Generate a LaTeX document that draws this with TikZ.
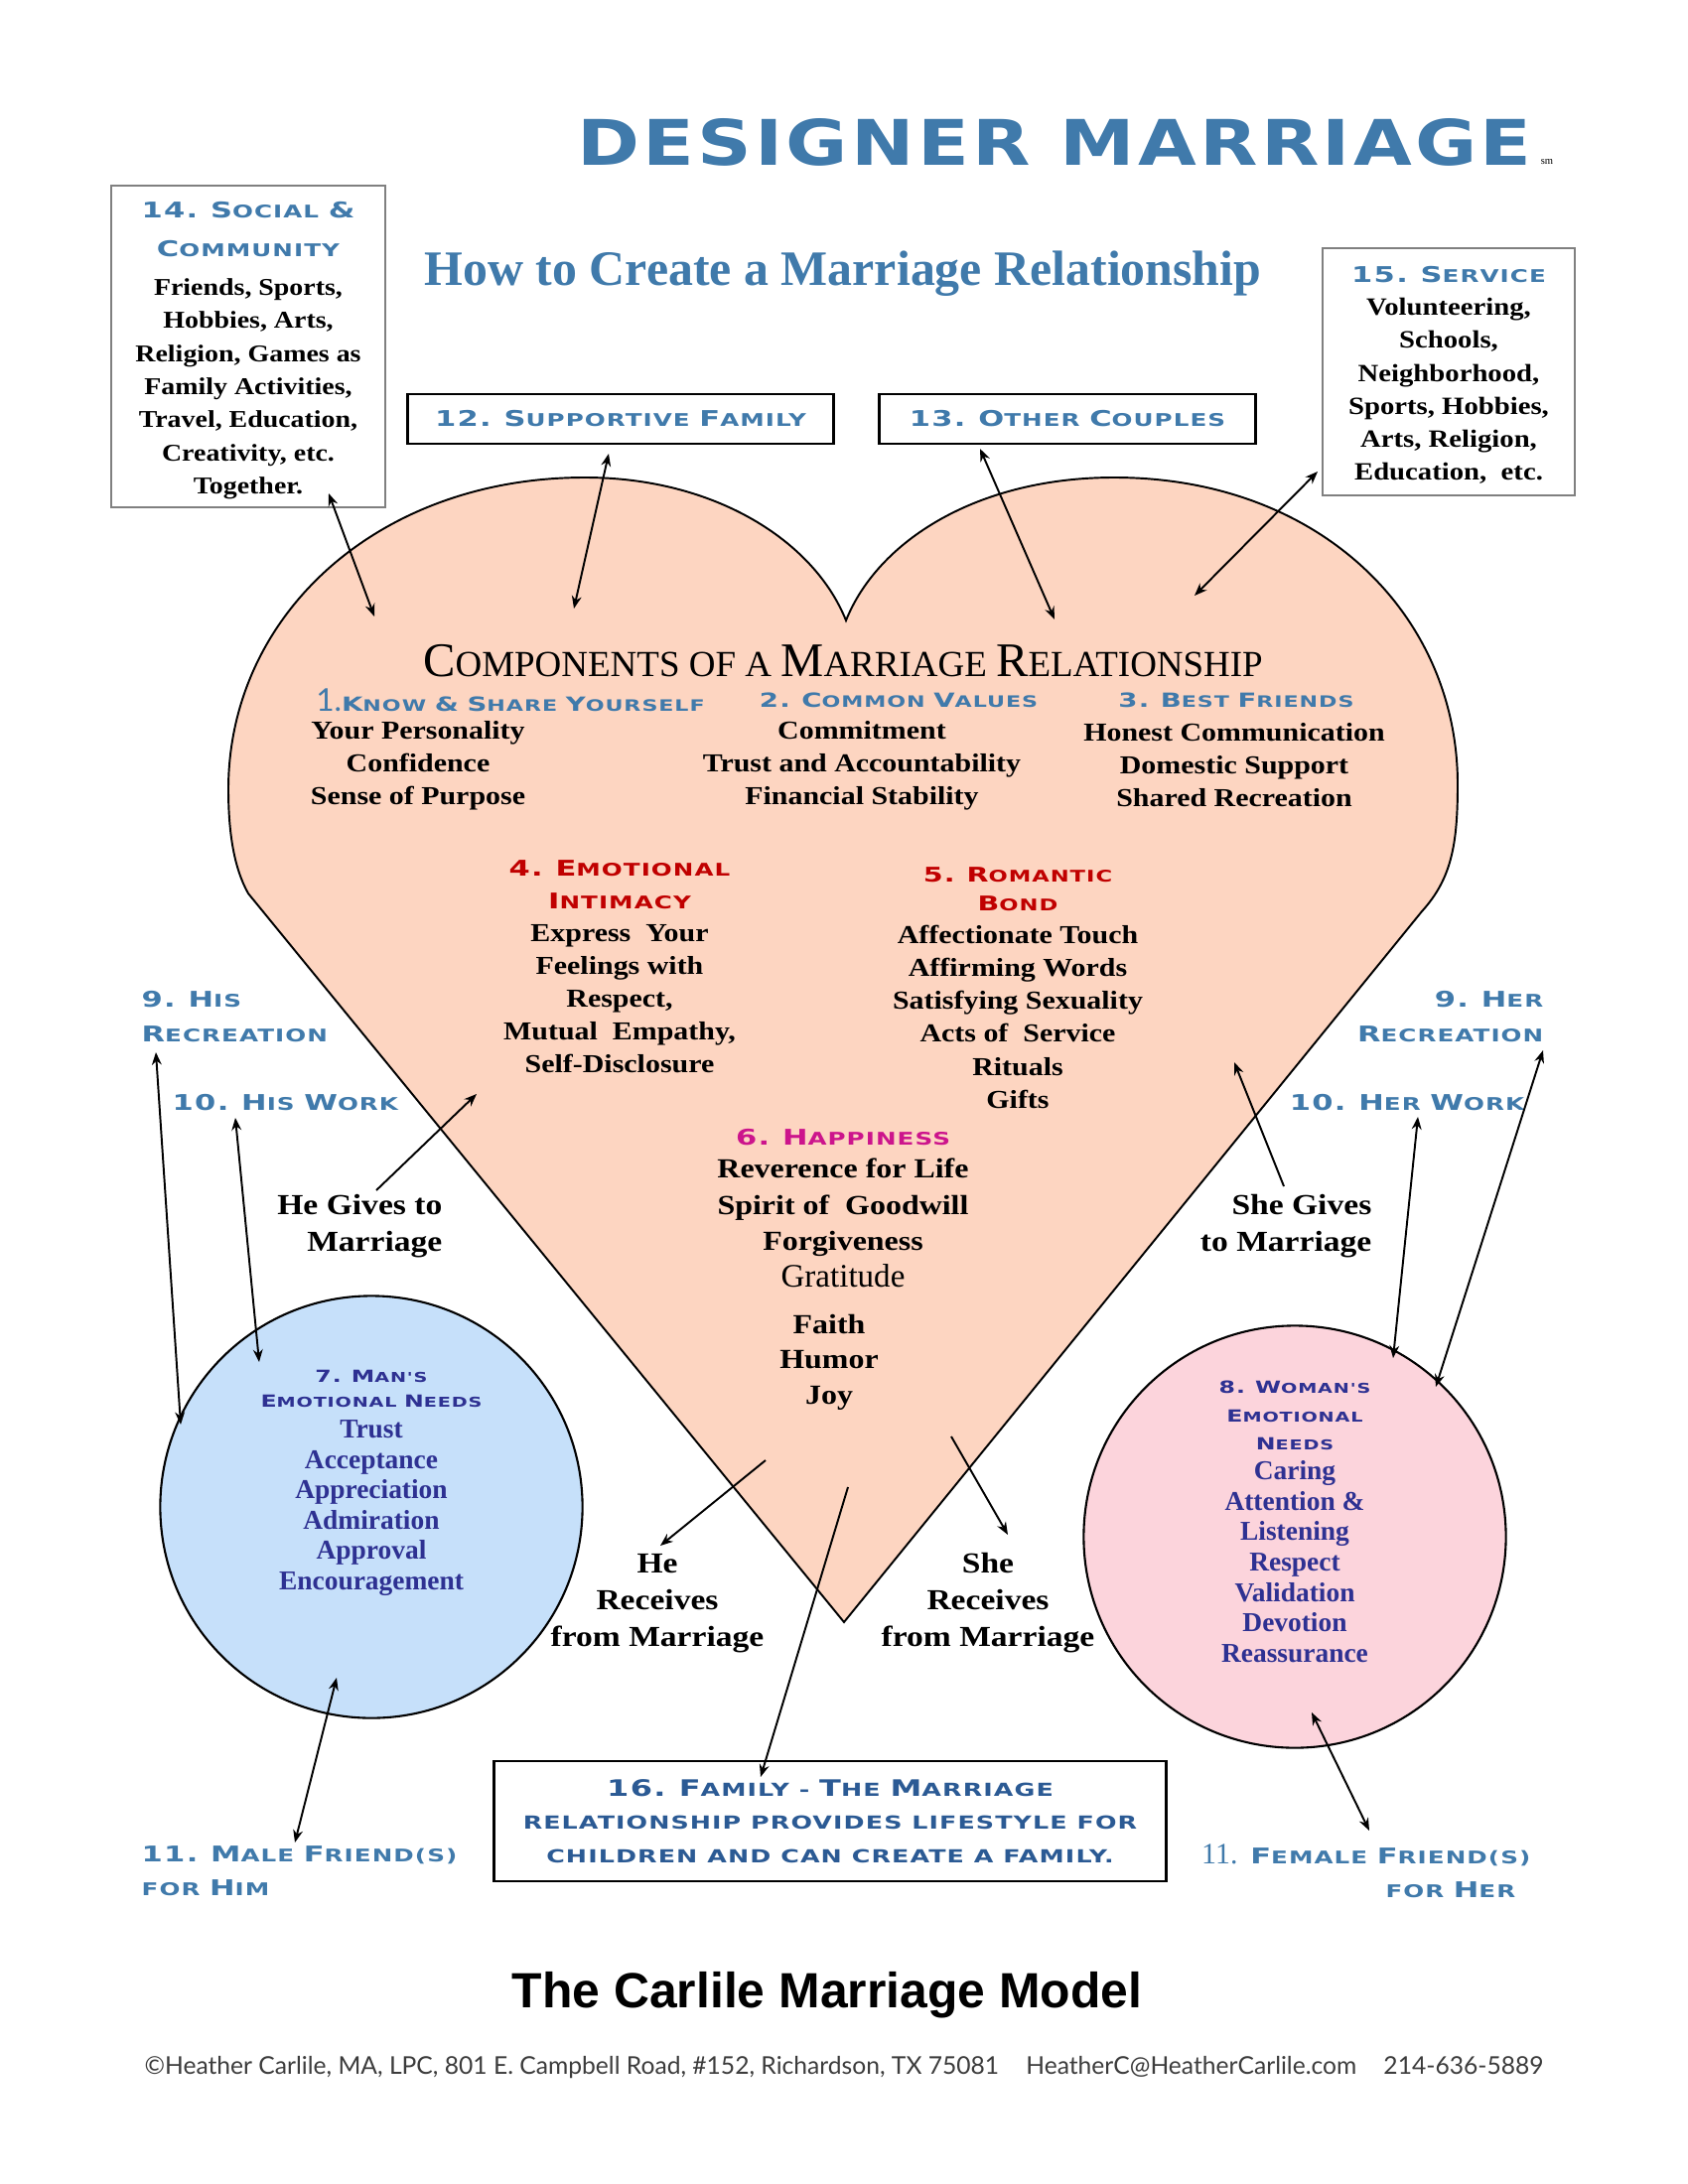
\documentclass[tikz,border=0pt]{standalone}
\usepackage{fontspec}
\usepackage{graphicx}
\usetikzlibrary{arrows.meta}
\setmainfont{Liberation Serif}
\newfontfamily\gar[FakeStretch=1.15]{Liberation Serif}
\newfontfamily\tim{Liberation Serif}
\newfontfamily\cop[FakeStretch=1.4,LetterSpace=6]{DejaVu Sans}
\newfontfamily\arl{Liberation Sans}
\newfontfamily\gill{Lato}
\definecolor{cblue}{RGB}{64,122,171}
\definecolor{cdblue}{RGB}{43,90,148}
\definecolor{cred}{RGB}{192,0,0}
\definecolor{cmag}{RGB}{204,20,140}
\definecolor{cnavy}{RGB}{46,49,146}
\definecolor{heartfill}{RGB}{253,213,193}
\definecolor{bluefill}{RGB}{198,224,250}
\definecolor{pinkfill}{RGB}{252,212,220}
\definecolor{boxgray}{RGB}{128,128,128}
\definecolor{foot}{RGB}{60,60,60}
\newcommand\Bg[1]{{\fontsize{\cpbig}{\cpbig}\selectfont #1}}
\newcommand\cpt[4]{{\color{#1}\cop\bfseries\def\cpbig{#3}\fontsize{#2}{#2}\selectfont #4}}
\newcommand\hd[2]{\cpt{#1}{5.0pt}{6.2pt}{#2}}
\tikzset{
  txt/.style={inner sep=0pt, align=center},
  bb/.style={txt, font=\gar\bfseries\fontsize{6.9pt}{9.5pt}\selectfont},
  rg/.style={txt, font=\gar\bfseries\fontsize{7.4pt}{9.4pt}\selectfont},
  nv/.style={txt, text=cnavy, font=\tim\bfseries\fontsize{7.8pt}{8.7pt}\selectfont},
  hds/.style={txt, font=\fontsize{5pt}{9.7pt}\selectfont},
  graybox/.style={draw=boxgray, line width=0.45pt, inner sep=0pt},
  blackbox/.style={draw=black, line width=0.8pt, inner sep=0pt},
  arr/.style={line width=0.55pt, -{Stealth[length=3.6pt,width=2.8pt]}},
  darr/.style={line width=0.55pt, {Stealth[length=3.6pt,width=2.8pt]}-{Stealth[length=3.6pt,width=2.8pt]}},
}
\begin{document}
\begin{tikzpicture}[x=0.01cm,y=-0.01cm]
\fill[white] (0,0) rectangle (1700,2200);
\path[use as bounding box] (0,0) rectangle (1700,2200);

% heart
\draw[fill=heartfill, line width=0.55pt] (850,1634) -- (250,900)
  .. controls (236,875) and (230,840) .. (230,795)
  .. controls (230,620) and (380,481) .. (589,481)
  .. controls (720,481) and (820,545) .. (852,625)
  .. controls (884,545) and (984,481) .. (1122,481)
  .. controls (1330,481) and (1468,620) .. (1468,790)
  .. controls (1468,850) and (1462,885) .. (1432,918) -- cycle;

% circles
\node[circle, draw, line width=0.6pt, fill=bluefill, minimum size=4.25cm, inner sep=0pt] (c7) at (374,1518) {};
\node[circle, draw, line width=0.6pt, fill=pinkfill, minimum size=4.25cm, inner sep=0pt] (c8) at (1304,1548) {};

% titles
\node[txt, text=cblue] (title) at (1062,143) {\resizebox{9.61cm}{0.47cm}{\cop\bfseries DESIGNER MARRIAGE}};
\node[txt, font=\tim\fontsize{3pt}{3pt}\selectfont] (sm) at (1558,163) {sm};
\node[txt, text=cblue] (sub) at (849,276) {\resizebox{8.42cm}{!}{\tim\bfseries How to Create a Marriage Relationship}};

% box 14
\node[graybox, minimum width=2.76cm, minimum height=3.24cm] (b14) at (250,349) {};
\node[bb] (t14) at (250,353) {\hd{cblue}{\Bg{14.} \Bg{S}OCIAL \Bg{\&}}\\[1.6pt]
  \hd{cblue}{\Bg{C}OMMUNITY}\\[1.6pt]
  Friends, Sports,\\ Hobbies, Arts,\\ Religion, Games as\\ Family Activities,\\ Travel, Education,\\ Creativity, etc.\\ Together.};

% box 15
\node[graybox, minimum width=2.54cm, minimum height=2.49cm] (b15) at (1459,374.5) {};
\node[bb, font=\gar\bfseries\fontsize{7.1pt}{9.45pt}\selectfont] (t15) at (1459,378) {\hd{cblue}{\Bg{15.} \Bg{S}ERVICE}\\
  Volunteering,\\ Schools,\\ Neighborhood,\\ Sports, Hobbies,\\ Arts, Religion,\\ Education,\ \ etc.};

% boxes 12, 13
\node[blackbox, minimum width=4.28cm, minimum height=0.5cm] (b12) at (625,422) {\hd{cblue}{\Bg{12.} \Bg{S}UPPORTIVE \Bg{F}AMILY}};
\node[blackbox, minimum width=3.78cm, minimum height=0.5cm] (b13) at (1075,422) {\hd{cblue}{\Bg{13.} \Bg{O}THER \Bg{C}OUPLES}};

% components
\node[txt] (comp) at (849,666) {\resizebox{8.45cm}{!}{\tim\fontsize{8pt}{8pt}\selectfont {\fontsize{10.5pt}{10pt}\selectfont C}OMPONENTS OF A {\fontsize{10.5pt}{10pt}\selectfont M}ARRIAGE {\fontsize{10.5pt}{10pt}\selectfont R}ELATIONSHIP}};
\node[txt] (h1) at (514,705) {{\color{cblue}\gill\fontsize{9pt}{9pt}\selectfont 1.}\cpt{cblue}{4.5pt}{5.6pt}{\Bg{K}NOW \Bg{\&} \Bg{S}HARE \Bg{Y}OURSELF}};
\node[txt] (h2) at (905,705) {\cpt{cblue}{4.5pt}{5.6pt}{\Bg{2.} \Bg{C}OMMON \Bg{V}ALUES}};
\node[txt] (h3) at (1245,705) {\cpt{cblue}{4.5pt}{5.6pt}{\Bg{3.} \Bg{B}EST \Bg{F}RIENDS}};
\node[rg] (i1) at (421,771) {Your Personality\\ Confidence\\ Sense of\ Purpose};
\node[rg] (i2) at (868,771) {Commitment\\ Trust and Accountability\\ Financial Stability};
\node[rg] (i3) at (1243,771) {Honest Communication\\ Domestic Support\\ Shared Recreation};

% 4 and 5
\node[rg] (t4) at (624,973.5) {\hd{cred}{\Bg{4.} \Bg{E}MOTIONAL}\\ \hd{cred}{\Bg{I}NTIMACY}\\
  Express\ \ Your\\ Feelings with\\ Respect,\\ Mutual\ \ Empathy,\\ Self-Disclosure};
\node[rg] (t5) at (1025,995) {\cpt{cred}{4.6pt}{5.8pt}{\Bg{5.} \Bg{R}OMANTIC}\\[-1.1pt] \cpt{cred}{4.6pt}{5.8pt}{\Bg{B}OND}\\
  Affectionate Touch\\ Affirming Words\\ Satisfying Sexuality\\ Acts of\ \ Service\\ Rituals\\ Gifts};

% 6
\node[txt, font=\gar\bfseries\fontsize{7.9pt}{10.4pt}\selectfont] (t6) at (849,1217) {\hd{cmag}{\Bg{6.} \Bg{H}APPINESS}\\[-1pt]
  Reverence for Life\\ Spirit of\ \ Goodwill\\ Forgiveness\\ {\tim\mdseries\fontsize{9.4pt}{10pt}\selectfont Gratitude}};
\node[txt, font=\gar\bfseries\fontsize{7.9pt}{10.1pt}\selectfont] (t6b) at (835,1372) {Faith\\ Humor\\ Joy};

% side labels
\node[hds, anchor=west, align=left] (r9h) at (142,1024) {\hd{cblue}{\Bg{9.} \Bg{H}IS}\\ \hd{cblue}{\Bg{R}ECREATION}};
\node[hds, anchor=west, align=left] (w10h) at (173,1111) {\hd{cblue}{\Bg{10.} \Bg{H}IS \Bg{W}ORK}};
\node[hds, anchor=east, align=right] (r9s) at (1555,1024) {\hd{cblue}{\Bg{9.} \Bg{H}ER}\\ \hd{cblue}{\Bg{R}ECREATION}};
\node[hds] (w10s) at (1417,1111) {\hd{cblue}{\Bg{10.} \Bg{H}ER \Bg{W}ORK}};

\node[txt, anchor=east, align=right, font=\gar\bfseries\fontsize{8.3pt}{10.5pt}\selectfont] (hg) at (446,1235) {He Gives to\\ Marriage};
\node[txt, anchor=east, align=right, font=\gar\bfseries\fontsize{8.3pt}{10.5pt}\selectfont] (sg) at (1382,1235) {She Gives\\ to Marriage};
\node[txt, font=\gar\bfseries\fontsize{8.3pt}{10.5pt}\selectfont] (hr) at (662,1615) {He\\ Receives\\ from Marriage};
\node[txt, font=\gar\bfseries\fontsize{8.3pt}{10.5pt}\selectfont] (sr) at (995,1615) {She\\ Receives\\ from Marriage};

% circle texts
\node[nv] (t7) at (374,1494) {\cpt{cnavy}{3.9pt}{4.8pt}{\Bg{7.} \Bg{M}AN'S}\\[-1.6pt] \cpt{cnavy}{3.9pt}{4.8pt}{\Bg{E}MOTIONAL \Bg{N}EEDS}\\
  Trust\\ Acceptance\\ Appreciation\\ Admiration\\ Approval\\ Encouragement};
\node[nv] (t8) at (1304,1533) {\cpt{cnavy}{3.9pt}{4.8pt}{\Bg{8.} \Bg{W}OMAN'S}\\[-0.7pt] \cpt{cnavy}{3.9pt}{4.8pt}{\Bg{E}MOTIONAL}\\[-0.7pt] \cpt{cnavy}{3.9pt}{4.8pt}{\Bg{N}EEDS}\\
  Caring\\ Attention \&\\ Listening\\ Respect\\ Validation\\ Devotion\\ Reassurance};

% box 16
\node[blackbox, minimum width=6.76cm, minimum height=1.21cm] (b16) at (836,1834.5) {};
\node[txt, font=\fontsize{5.15pt}{9.6pt}\selectfont] (t16) at (836,1834.5) {\cpt{cdblue}{5.15pt}{6.5pt}{\Bg{16.} \Bg{F}AMILY - \Bg{T}HE \Bg{M}ARRIAGE}\\
  \cpt{cdblue}{5.15pt}{6.5pt}{RELATIONSHIP PROVIDES LIFESTYLE FOR}\\
  \cpt{cdblue}{5.15pt}{6.5pt}{CHILDREN AND CAN CREATE A FAMILY.}};

% friends
\node[hds, anchor=west, align=left] (m11) at (142,1885) {\hd{cblue}{\Bg{11.} \Bg{M}ALE \Bg{F}RIEND(S)}\\ \hd{cblue}{FOR \Bg{H}IM}};
\node[hds, anchor=east, align=right] (f11) at (1542,1885) {{\color{cblue}\tim\fontsize{8.5pt}{8.5pt}\selectfont 11.}\hd{cblue}{ \Bg{F}EMALE \Bg{F}RIEND(S)}\\ \hd{cblue}{FOR \Bg{H}ER}\kern0.15cm};

% bottom
\node[txt] (model) at (833,2010) {\resizebox{6.34cm}{!}{\arl\bfseries The Carlile Marriage Model}};
\node[txt, text=foot] (footer) at (850,2083) {\resizebox{14.08cm}{!}{\gill ©Heather Carlile, MA, LPC, 801 E. Campbell Road, \#152, Richardson, TX 75081\hspace{1.1em}HeatherC@HeatherCarlile.com\hspace{1.1em}214-636-5889}};

% arrow end points
\coordinate (a14) at (331,497);  \coordinate (a14h) at (377,621);
\coordinate (a12) at (613,457);  \coordinate (a12h) at (578,613);
\coordinate (a13) at (987,452);  \coordinate (a13h) at (1062,624);
\coordinate (a15) at (1327,475); \coordinate (a15h) at (1203,600);
\coordinate (ahg) at (379,1199); \coordinate (ahgh) at (480,1102);
\coordinate (asg) at (1293,1195); \coordinate (asgh) at (1243,1070);
\coordinate (ar9h) at (157,1060); \coordinate (ar9hc) at (182,1435);
\coordinate (aw10h) at (237,1126); \coordinate (aw10hc) at (261,1372);
\coordinate (aw10s) at (1428,1125); \coordinate (aw10sc) at (1403,1368);
\coordinate (ar9s) at (1554,1058); \coordinate (ar9sc) at (1446,1397);
\coordinate (ahr) at (771,1471); \coordinate (ahrt) at (665,1557);
\coordinate (asr) at (958,1447); \coordinate (asrt) at (1015,1546);
\coordinate (afam) at (854,1498); \coordinate (afamt) at (766,1790);
\coordinate (am11) at (297,1856); \coordinate (am11c) at (339,1690);
\coordinate (af11) at (1379,1844); \coordinate (af11c) at (1321,1725);

\draw[darr] (a14) -- (a14h);
\draw[darr] (a12) -- (a12h);
\draw[darr] (a13) -- (a13h);
\draw[darr] (a15) -- (a15h);
\draw[arr] (ahg) -- (ahgh);
\draw[arr] (asg) -- (asgh);
\draw[darr] (ar9h) -- (ar9hc);
\draw[darr] (aw10h) -- (aw10hc);
\draw[darr] (aw10s) -- (aw10sc);
\draw[darr] (ar9s) -- (ar9sc);
\draw[arr] (ahr) -- (ahrt);
\draw[arr] (asr) -- (asrt);
\draw[arr] (afam) -- (afamt);
\draw[darr] (am11) -- (am11c);
\draw[darr] (af11) -- (af11c);
\end{tikzpicture}
\end{document}
